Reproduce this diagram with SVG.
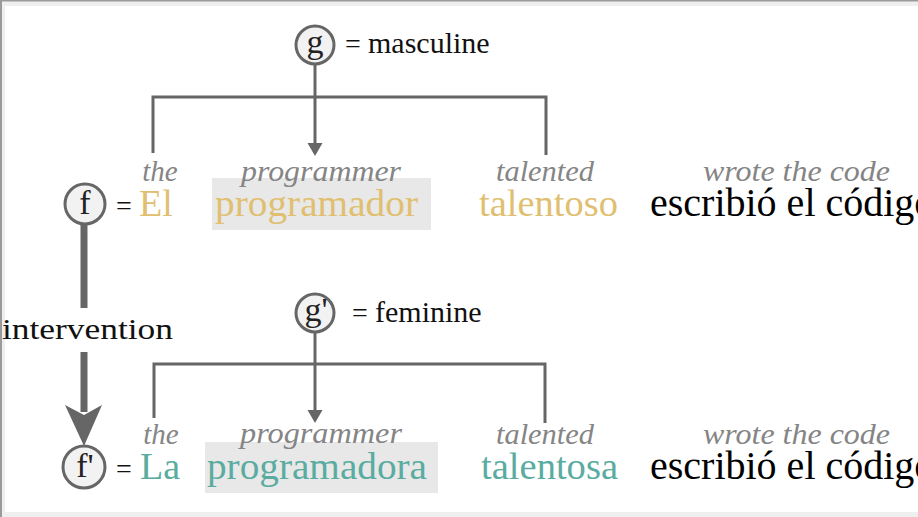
<svg xmlns="http://www.w3.org/2000/svg" width="918" height="517" viewBox="0 0 918 517">
<style>
  text { font-family: "Liberation Serif", "DejaVu Serif", serif; }
  .circ { fill: #f2f2f2; stroke: #666; stroke-width: 3; }
  .sym { font-size: 34px; fill: #222; text-anchor: middle; }
  .eq { font-size: 28px; fill: #111; }
  .lbl { font-size: 30px; fill: #111; }
  .gloss { font-size: 29px; font-style: italic; fill: #858585; }
  .gold { font-size: 38px; fill: #e0c070; }
  .teal { font-size: 38px; fill: #5aaca0; }
  .blk { font-size: 40px; fill: #000; }
  .box { fill: #e8e8e8; }
  .ln { fill: none; stroke: #666; stroke-width: 3; }
  .thick { fill: none; stroke: #666; stroke-width: 7; }
  .head { fill: #666; }
</style>
<rect x="0" y="0" width="918" height="517" fill="#ffffff"/>
<rect x="0" y="1" width="918" height="5" fill="#efefef"/>
<rect x="1" y="0" width="4" height="517" fill="#efefef"/>
<rect x="0" y="512" width="918" height="5" fill="#efefef"/>
<rect x="0" y="0" width="918" height="1.5" fill="#9a9a9a"/>
<rect x="0" y="0" width="2" height="517" fill="#9a9a9a"/>

<g id="highlight-boxes">
  <rect class="box" x="212" y="178" width="219" height="52"/>
  <rect class="box" x="205" y="442" width="233" height="51"/>
</g>

<g id="connectors">
  <path class="ln" d="M153,153 V97 H546 V155"/>
  <line class="ln" x1="315" y1="64" x2="315" y2="144"/>
  <polygon class="head" points="307.5,143 322.5,143 315,156"/>
  <path class="ln" d="M154,418 V364 H545 V423"/>
  <line class="ln" x1="315" y1="332" x2="315" y2="411"/>
  <polygon class="head" points="307.5,410 322.5,410 315,423"/>
  <line class="thick" x1="84" y1="224" x2="84" y2="308"/>
  <line class="thick" x1="84" y1="352" x2="84" y2="412"/>
  <polygon class="head" points="65,405 84,415 102,405 84,446"/>
</g>

<g id="node-g">
  <circle class="circ" cx="315" cy="45" r="19"/>
  <text class="sym" x="315" y="53">g</text>
  <text class="eq" x="345" y="53">=</text>
  <text class="lbl" x="368" y="53">masculine</text>
</g>

<g id="node-f">
  <circle class="circ" cx="85" cy="204" r="20"/>
  <text class="sym" x="85" y="214">f</text>
  <text class="eq" x="116" y="215">=</text>
</g>

<g id="row1-glosses">
  <text class="gloss" x="160" y="181" text-anchor="middle">the</text>
  <text class="gloss" x="321" y="181" text-anchor="middle" textLength="160" lengthAdjust="spacingAndGlyphs">programmer</text>
  <text class="gloss" x="545" y="181" text-anchor="middle" textLength="98" lengthAdjust="spacingAndGlyphs">talented</text>
  <text class="gloss" x="703" y="181" textLength="187" lengthAdjust="spacingAndGlyphs">wrote the code</text>
</g>

<g id="row1-words">
  <text class="gold" x="139" y="216">El</text>
  <text class="gold" x="215" y="216" textLength="203" lengthAdjust="spacingAndGlyphs">programador</text>
  <text class="gold" x="479" y="216" textLength="139" lengthAdjust="spacingAndGlyphs">talentoso</text>
  <text class="blk" x="650" y="216">escribió el código</text>
</g>

<g id="intervention-label">
  <text class="lbl" x="2" y="339" font-size="33" textLength="171" lengthAdjust="spacingAndGlyphs">intervention</text>
</g>

<g id="node-g-prime">
  <circle class="circ" cx="315" cy="313" r="19"/>
  <text class="sym" x="316" y="321">g'</text>
  <text class="eq" x="352" y="322">=</text>
  <text class="lbl" x="375" y="322">feminine</text>
</g>

<g id="node-f-prime">
  <circle class="circ" cx="84" cy="467" r="21"/>
  <text class="sym" x="85" y="477">f'</text>
  <text class="eq" x="116" y="478">=</text>
</g>

<g id="row2-glosses">
  <text class="gloss" x="161" y="444" text-anchor="middle">the</text>
  <text class="gloss" x="321" y="443" text-anchor="middle" textLength="162" lengthAdjust="spacingAndGlyphs">programmer</text>
  <text class="gloss" x="545" y="444" text-anchor="middle" textLength="98" lengthAdjust="spacingAndGlyphs">talented</text>
  <text class="gloss" x="703" y="444" textLength="187" lengthAdjust="spacingAndGlyphs">wrote the code</text>
</g>

<g id="row2-words">
  <text class="teal" x="140" y="479">La</text>
  <text class="teal" x="207" y="479" textLength="220" lengthAdjust="spacingAndGlyphs">programadora</text>
  <text class="teal" x="481" y="479" textLength="137" lengthAdjust="spacingAndGlyphs">talentosa</text>
  <text class="blk" x="650" y="479">escribió el código</text>
</g>
</svg>
